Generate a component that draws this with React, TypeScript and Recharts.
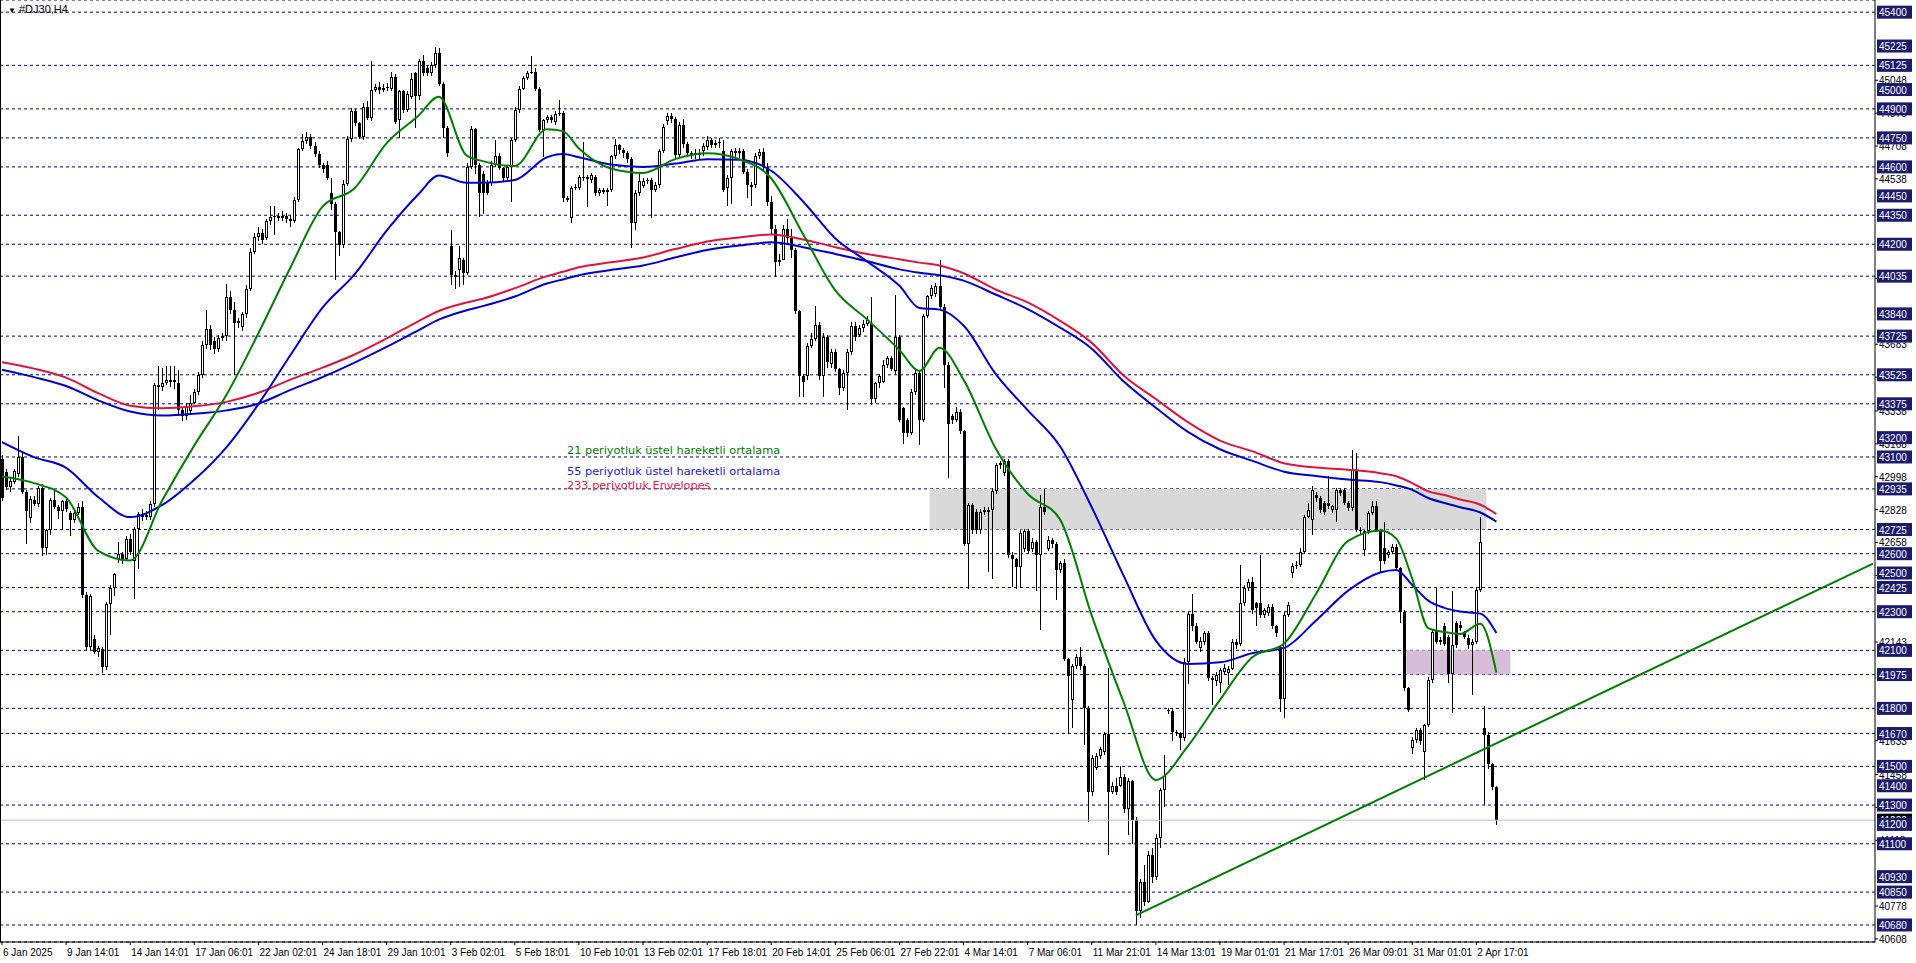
import * as React from "react";
import {
  ComposedChart,
  Bar,
  Line,
  XAxis,
  YAxis,
  CartesianGrid,
  ReferenceLine,
  ReferenceArea,
} from "recharts";

// H4 candles as [open, high, low, close]
const ohlcPart1 = [
  [43090, 43110, 42870, 42890], [43020, 43040, 42930, 42945], [42945, 42990, 42920, 42975], [42970, 43040, 42960, 43030], [43010, 43210, 43000, 43100],
  [43100, 43120, 42910, 42920], [42920, 42930, 42650, 42820], [42785, 42900, 42760, 42885], [42880, 42900, 42850, 42855], [42855, 42950, 42840, 42940],
  [42940, 42960, 42590, 42630], [42630, 42730, 42595, 42720], [42720, 42890, 42700, 42875], [42875, 42930, 42830, 42840], [42840, 42850, 42780, 42820],
  [42820, 42880, 42730, 42870], [42870, 42890, 42820, 42830], [42810, 42820, 42690, 42775], [42775, 42820, 42760, 42810], [42810, 42860, 42800, 42840],
  [42840, 42870, 42370, 42385], [42385, 42400, 42100, 42115], [42115, 42390, 42100, 42380], [42160, 42180, 42080, 42090], [42090, 42125, 42070, 42110],
  [42105, 42115, 41980, 42015], [42015, 42350, 42000, 42340], [42340, 42440, 42180, 42425], [42425, 42500, 42380, 42495], [42575, 42660, 42550, 42600],
  [42600, 42610, 42550, 42575], [42575, 42690, 42560, 42675], [42675, 42700, 42590, 42610], [42560, 42740, 42370, 42730], [42730, 42815, 42520, 42805],
  [42805, 42830, 42770, 42790], [42790, 42820, 42775, 42800], [42790, 42870, 42770, 42855], [42855, 43480, 42840, 43470], [43470, 43570, 43345, 43460],
  [43460, 43560, 43440, 43480], [43485, 43570, 43470, 43500], [43500, 43570, 43460, 43490], [43490, 43570, 43450, 43500], [43480, 43550, 43310, 43345],
  [43345, 43360, 43290, 43312], [43312, 43380, 43290, 43357], [43340, 43420, 43320, 43380], [43380, 43450, 43370, 43435], [43435, 43540, 43420, 43525],
  [43525, 43700, 43510, 43680], [43680, 43860, 43660, 43760], [43760, 43780, 43650, 43680], [43700, 43720, 43630, 43660], [43660, 43730, 43640, 43715],
  [43715, 43740, 43700, 43725], [43725, 43995, 43700, 43925], [43925, 43960, 43840, 43860], [43860, 43900, 43525, 43795], [43795, 43820, 43770, 43805],
  [43770, 43850, 43750, 43840], [43840, 43990, 43820, 43970], [43970, 44180, 43960, 44160], [44160, 44260, 44150, 44240], [44240, 44290, 44220, 44260],
  [44260, 44280, 44200, 44220], [44230, 44330, 44220, 44320], [44320, 44400, 44300, 44340], [44340, 44400, 44250, 44345], [44345, 44360, 44320, 44335],
  [44335, 44370, 44320, 44345], [44345, 44360, 44310, 44330], [44330, 44350, 44290, 44320], [44320, 44445, 44310, 44430], [44430, 44700, 44420, 44690],
  [44690, 44770, 44680, 44735], [44735, 44780, 44720, 44755], [44755, 44770, 44690, 44710], [44710, 44730, 44650, 44665], [44665, 44680, 44590, 44610],
  [44610, 44620, 44570, 44590], [44610, 44630, 44530, 44545], [44465, 44545, 44380, 44410], [44410, 44420, 44015, 44265], [44265, 44270, 44140, 44195],
  [44195, 44530, 44180, 44510], [44510, 44760, 44500, 44745], [44745, 44905, 44730, 44890], [44890, 44900, 44810, 44825], [44825, 44830, 44740, 44755],
  [44755, 44930, 44740, 44910], [44910, 44940, 44840, 44855], [44855, 45150, 44840, 45000], [45000, 45030, 44990, 45015], [45015, 45040, 44980, 45000],
];

const ohlcPart2 = [
  [45000, 45030, 44990, 45010], [45010, 45035, 44995, 45015], [45005, 45090, 44990, 45065], [45065, 45080, 44820, 44830], [44840, 45000, 44750, 44990],
  [44990, 45000, 44880, 44895], [44895, 44990, 44880, 44975], [44960, 45085, 44950, 45055], [45085, 45090, 44800, 44965], [44965, 45160, 44950, 45145],
  [45145, 45180, 45070, 45085], [45110, 45120, 45070, 45085], [45085, 45140, 45070, 45125], [45125, 45220, 45110, 45190], [45190, 45215, 45020, 45030],
  [45030, 45040, 44750, 44800], [44800, 44810, 44650, 44670], [44190, 44275, 43990, 44040], [44040, 44060, 43965, 44030], [44065, 44190, 43980, 44130],
  [44120, 44130, 43990, 44050], [44050, 44620, 44040, 44600], [44600, 44810, 44590, 44795], [44795, 44800, 44560, 44610], [44610, 44620, 44340, 44465],
  [44565, 44580, 44360, 44465], [44515, 44530, 44450, 44465], [44515, 44630, 44500, 44610], [44610, 44740, 44600, 44655], [44655, 44670, 44580, 44595],
  [44595, 44600, 44520, 44540], [44540, 44610, 44530, 44600], [44600, 44750, 44420, 44740], [44740, 44910, 44730, 44895], [44895, 45020, 44880, 45005],
  [45005, 45070, 45000, 45060], [45060, 45095, 45050, 45085], [45085, 45175, 45080, 45092], [45092, 45110, 44990, 45005], [45005, 45015, 44780, 44790],
  [44790, 44850, 44655, 44840], [44840, 44870, 44830, 44860], [44860, 44870, 44830, 44845], [44830, 44890, 44820, 44875], [44875, 44945, 44860, 44880],
  [44880, 44890, 44420, 44440], [44440, 44450, 44420, 44430], [44335, 44500, 44310, 44490], [44490, 44510, 44480, 44498], [44490, 44560, 44480, 44550],
  [44540, 44730, 44530, 44550], [44550, 44560, 44395, 44535], [44530, 44570, 44520, 44560], [44550, 44560, 44450, 44465], [44465, 44490, 44450, 44480],
  [44480, 44490, 44460, 44470], [44470, 44490, 44395, 44480], [44480, 44660, 44470, 44655], [44655, 44745, 44640, 44715], [44715, 44720, 44670, 44685],
  [44685, 44700, 44650, 44670], [44670, 44680, 44620, 44640], [44640, 44650, 44180, 44310], [44310, 44480, 44275, 44465], [44465, 44570, 44450, 44525],
  [44500, 44540, 44490, 44525], [44525, 44545, 44515, 44532], [44532, 44545, 44340, 44480], [44480, 44520, 44470, 44505], [44505, 44690, 44490, 44680],
  [44680, 44820, 44670, 44805], [44835, 44880, 44820, 44865], [44865, 44880, 44830, 44850], [44850, 44860, 44650, 44660], [44660, 44830, 44650, 44815],
  [44815, 44850, 44700, 44720], [44720, 44730, 44650, 44670], [44670, 44680, 44640, 44662], [44662, 44690, 44640, 44670], [44670, 44690, 44640, 44662],
  [44680, 44725, 44660, 44710], [44705, 44760, 44690, 44740], [44740, 44750, 44700, 44715], [44715, 44740, 44700, 44725], [44725, 44750, 44700, 44730],
  [44680, 44740, 44470, 44480], [44490, 44560, 44400, 44540], [44540, 44690, 44405, 44680], [44680, 44700, 44650, 44670], [44670, 44700, 44650, 44680],
  [44680, 44690, 44560, 44575], [44575, 44590, 44440, 44505], [44505, 44520, 44395, 44498], [44505, 44670, 44490, 44655], [44655, 44690, 44640, 44675],
];

const ohlcPart3 = [
  [44675, 44700, 44580, 44600], [44600, 44620, 44400, 44420], [44420, 44450, 44250, 44280], [44280, 44300, 44030, 44110], [44110, 44150, 44090, 44120],
  [44120, 44300, 44120, 44280], [44280, 44330, 44200, 44230], [44230, 44280, 44130, 44170], [44170, 44180, 43840, 43855], [43855, 43860, 43410, 43520],
  [43520, 43530, 43410, 43490], [43520, 43690, 43500, 43675], [43675, 43740, 43660, 43710], [43710, 43880, 43700, 43785], [43785, 43800, 43500, 43520],
  [43520, 43740, 43410, 43720], [43720, 43730, 43560, 43590], [43580, 43660, 43560, 43645], [43645, 43660, 43540, 43555], [43555, 43560, 43420, 43455],
  [43455, 43550, 43440, 43535], [43535, 43660, 43345, 43645], [43645, 43800, 43630, 43775], [43775, 43800, 43700, 43720], [43730, 43780, 43720, 43765],
  [43765, 43810, 43750, 43790], [43790, 43830, 43780, 43810], [43790, 43925, 43365, 43400], [43400, 43490, 43380, 43480], [43480, 43530, 43460, 43520],
  [43490, 43600, 43480, 43575], [43575, 43620, 43560, 43610], [43610, 43620, 43540, 43555], [43545, 43940, 43530, 43720], [43720, 43730, 43280, 43290],
  [43355, 43360, 43170, 43225], [43290, 43300, 43200, 43225], [43225, 43450, 43210, 43435], [43435, 43550, 43420, 43535], [43535, 43540, 43160, 43290],
  [43290, 43840, 43280, 43830], [43830, 43940, 43820, 43930], [43930, 43990, 43920, 43975], [43945, 44000, 43930, 43985], [43985, 44120, 43860, 43875],
  [43875, 43890, 43455, 43575], [43575, 43590, 42990, 43270], [43310, 43320, 43270, 43290], [43290, 43360, 43280, 43335], [43335, 43350, 43220, 43235],
  [43235, 43240, 42640, 42650], [42650, 42860, 42415, 42850], [42850, 42860, 42700, 42725], [42815, 42830, 42700, 42725], [42725, 42830, 42700, 42815],
  [42815, 42840, 42800, 42825], [42825, 42840, 42505, 42815], [42825, 42940, 42470, 42925], [42925, 43070, 42910, 43060], [43060, 43080, 43040, 43070],
  [43015, 43090, 43000, 43080], [43080, 43090, 42580, 42595], [42595, 42610, 42430, 42570], [42570, 42580, 42420, 42530], [42530, 42720, 42420, 42705],
  [42625, 42730, 42610, 42715], [42715, 42730, 42600, 42615], [42625, 42680, 42610, 42660], [42660, 42670, 42405, 42595], [42595, 42905, 42205, 42840],
  [42840, 42935, 42800, 42815], [42625, 42690, 42610, 42670], [42670, 42680, 42630, 42650], [42650, 42660, 42360, 42515], [42515, 42560, 42500, 42550],
  [42550, 42570, 42040, 42055], [42055, 42060, 41665, 41965], [41845, 42030, 41700, 42020], [42020, 42080, 42000, 42065], [42065, 42120, 42000, 42020],
  [42020, 42030, 41610, 41800], [41800, 41810, 41210, 41370], [41370, 41560, 41350, 41545], [41490, 41570, 41480, 41555], [41555, 41600, 41540, 41590],
  [41575, 41680, 41560, 41665], [41665, 42010, 41045, 41370], [41370, 41420, 41360, 41400], [41400, 41440, 41350, 41370], [41400, 41500, 41390, 41445],
  [41445, 41460, 41260, 41280], [41280, 41440, 41145, 41425], [41425, 41430, 41100, 41225], [41225, 41240, 40680, 40750], [40750, 40920, 40720, 40900],
];

const ohlcPart4 = [
  [40900, 40990, 40780, 40800], [40800, 41060, 40790, 41040], [41040, 41080, 40900, 40930], [40930, 41150, 40910, 41130], [41130, 41390, 41080, 41380],
  [41380, 41560, 41290, 41450], [41790, 41800, 41770, 41785], [41785, 41800, 41630, 41680], [41680, 41690, 41660, 41672], [41672, 41680, 41585, 41645],
  [41645, 42060, 41630, 42040], [42040, 42300, 41930, 42290], [42290, 42390, 42200, 42225], [42225, 42240, 42130, 42145], [42110, 42170, 42090, 42150],
  [42145, 42200, 42130, 42190], [42190, 42200, 41940, 41955], [41955, 41970, 41820, 41945], [41940, 41990, 41920, 41975], [41930, 42010, 41880, 42000],
  [41990, 42030, 41980, 42010], [41985, 42020, 41920, 42005], [42005, 42160, 42000, 42145], [42145, 42160, 42110, 42128], [42135, 42540, 42120, 42345],
  [42345, 42440, 42330, 42420], [42420, 42470, 42410, 42455], [42455, 42480, 42290, 42310], [42345, 42350, 42225, 42320], [42345, 42595, 42270, 42285],
  [42285, 42320, 42270, 42310], [42295, 42340, 42280, 42325], [42325, 42340, 42210, 42225], [42225, 42230, 42170, 42190], [42120, 42130, 41785, 41850],
  [41850, 42300, 41750, 42285], [42285, 42350, 42270, 42335], [42500, 42550, 42475, 42535], [42535, 42560, 42520, 42540], [42540, 42630, 42530, 42610],
  [42610, 42800, 42600, 42790], [42790, 42860, 42780, 42825], [42775, 42950, 42695, 42930], [42905, 42920, 42870, 42890], [42890, 42900, 42810, 42825],
  [42860, 42870, 42800, 42815], [42860, 43000, 42830, 42845], [42825, 42850, 42810, 42845], [42825, 42940, 42765, 42930], [42930, 42940, 42900, 42912],
  [42930, 42940, 42850, 42860], [42860, 42870, 42820, 42835], [42835, 43135, 42820, 43035], [43035, 43120, 42710, 42725], [42725, 42740, 42700, 42715],
  [42620, 42720, 42585, 42715], [42715, 42820, 42700, 42810], [42810, 42870, 42800, 42845], [42845, 42870, 42710, 42725], [42725, 42730, 42505, 42560],
  [42630, 42765, 42550, 42560], [42595, 42620, 42580, 42610], [42610, 42650, 42600, 42635], [42635, 42650, 42510, 42525], [42525, 42530, 42240, 42300],
  [42300, 42310, 41890, 41905], [41905, 41910, 41780, 41790], [41595, 41650, 41560, 41635], [41635, 41700, 41620, 41690], [41690, 41700, 41610, 41630],
  [41575, 41720, 41430, 41715], [41715, 41960, 41700, 41945], [41945, 42210, 41930, 42195], [42205, 42420, 42130, 42145], [42145, 42170, 42130, 42155],
  [42225, 42240, 42120, 42135], [42170, 42180, 41930, 41980], [41980, 42405, 41775, 42130], [42240, 42250, 42110, 42130], [42230, 42250, 42200, 42215],
  [42190, 42200, 42160, 42170], [42165, 42180, 42110, 42130], [42130, 42160, 41870, 42145], [42145, 42420, 42130, 42410], [42410, 42790, 42400, 42660],
  [41700, 41810, 41300, 41660], [41660, 41680, 41490, 41510], [41510, 41520, 41380, 41395], [41395, 41400, 41200, 41222],
];

// indicator readings, sampled at these bars
const maBars = [0, 8, 16, 24, 32, 40, 48, 56, 64, 72, 80, 88, 96, 104, 109, 116, 120, 128, 136, 140, 144, 152, 160, 168, 176, 184, 192, 200, 208, 216, 224, 229, 234, 240, 248, 256, 264, 272, 280, 288, 296, 304, 312, 320, 328, 336, 344, 348, 352, 356, 360, 364, 369, 373];
const ema21 = [42999, 42965, 42890, 42615, 42565, 42876, 43160, 43420, 43740, 44080, 44395, 44490, 44723, 44866, 44963, 44658, 44630, 44605, 44795, 44785, 44695, 44592, 44569, 44640, 44670, 44640, 44540, 44250, 43961, 43810, 43653, 43545, 43665, 43500, 43145, 42910, 42780, 42280, 41830, 41430, 41605, 41844, 42063, 42135, 42393, 42666, 42720, 42678, 42470, 42215, 42195, 42185, 42237, 41985];
const ema55 = [43177, 43099, 43044, 42893, 42789, 42852, 42982, 43150, 43373, 43627, 43872, 44044, 44270, 44460, 44555, 44518, 44518, 44532, 44650, 44667, 44650, 44612, 44600, 44617, 44640, 44637, 44580, 44420, 44230, 44110, 43985, 43870, 43862, 43780, 43530, 43342, 43158, 42840, 42484, 42150, 42030, 42038, 42085, 42113, 42255, 42409, 42503, 42516, 42438, 42357, 42320, 42301, 42290, 42190];
const envUpper = [43590, 43557, 43510, 43430, 43365, 43352, 43362, 43385, 43432, 43500, 43562, 43630, 43713, 43803, 43855, 43899, 43918, 43973, 44035, 44058, 44081, 44107, 44132, 44175, 44214, 44235, 44250, 44225, 44185, 44150, 44122, 44105, 44090, 44050, 43966, 43899, 43805, 43690, 43520, 43400, 43280, 43185, 43130, 43068, 43045, 43034, 43016, 43000, 42965, 42922, 42903, 42880, 42853, 42805];
const envLower = [43551, 43513, 43467, 43393, 43335, 43314, 43323, 43341, 43376, 43447, 43513, 43588, 43669, 43756, 43810, 43859, 43880, 43930, 43997, 44018, 44040, 44067, 44090, 44131, 44170, 44193, 44210, 44185, 44150, 44112, 44070, 44053, 44040, 44012, 43940, 43865, 43770, 43660, 43490, 43355, 43230, 43140, 43081, 43024, 43002, 42983, 42970, 42953, 42930, 42888, 42862, 42840, 42813, 42766];

const timeBars = [0, 16, 32, 48, 64, 80, 96, 112, 128, 144, 160, 176, 192, 208, 224, 240, 256, 272, 288, 304, 320, 336, 352, 368];
const timeLabels = ["6 Jan 2025", "9 Jan 14:01", "14 Jan 14:01", "17 Jan 06:01", "22 Jan 02:01", "24 Jan 18:01", "29 Jan 10:01", "3 Feb 02:01", "5 Feb 18:01", "10 Feb 10:01", "13 Feb 02:01", "17 Feb 18:01", "20 Feb 14:01", "25 Feb 06:01", "27 Feb 22:01", "4 Mar 14:01", "7 Mar 06:01", "11 Mar 21:01", "14 Mar 13:01", "19 Mar 01:01", "21 Mar 17:01", "26 Mar 09:01", "31 Mar 01:01", "2 Apr 17:01"];

const levels = [45400, 45225, 45125, 45000, 44900, 44750, 44600, 44450, 44350, 44200, 44035, 43840, 43725, 43525, 43375, 43200, 43100, 42935, 42725, 42600, 42500, 42425, 42300, 42100, 41975, 41800, 41670, 41500, 41400, 41300, 41200, 41100, 40930, 40850, 40680];
const scaleTicks = [45048, 44878, 44708, 44538, 44023, 43683, 43513, 43338, 43168, 42998, 42828, 42658, 42488, 42143, 41633, 41458, 41288, 41118, 40778, 40608];
const lastPrice = 41222;

const grayZone = { from: 232, to: 370, low: 42725, high: 42935 };
const pinkZone = { from: 351, to: 376, low: 41975, high: 42100 };
const trendStart = { bar: 283, price: 40730 };
const trendEnd = { bar: 467, price: 42549 };

const priceDomain = [40592, 45463];
const slotCount = 468;

const candles = [...ohlcPart1, ...ohlcPart2, ...ohlcPart3, ...ohlcPart4];
const rows: any[] = Array.from({ length: slotCount }, (_, i) => ({ i }));
candles.forEach(([o, h, l, c], i) => Object.assign(rows[i], { o, h, l, c }));
maBars.forEach((b, k) =>
  Object.assign(rows[b], {
    ema21: ema21[k],
    ema55: ema55[k],
    envUp: envUpper[k],
    envLo: envLower[k],
  })
);

const boxed = new Set(levels);
const labelFont = "'Liberation Sans', Arial, sans-serif";

const Candle = (props: any) => {
  const { x, y, height, payload } = props;
  if (!payload || payload.h === undefined || !isFinite(y)) return <g />;
  const { o, h, l, c } = payload;
  const top = Math.min(y, y + height);
  const span = Math.abs(height);
  const py = (v: number) => top + (h === l ? 0 : ((h - v) / (h - l)) * span);
  const x0 = Math.round(x);
  const yo = py(o);
  const yc = py(c);
  const bTop = Math.round(Math.min(yo, yc));
  const bBot = Math.round(Math.max(yo, yc));
  const bodyH = Math.max(bBot - bTop, 1);
  return (
    <g shapeRendering="crispEdges">
      <rect x={x0 + 1} y={Math.round(top)} width={1} height={Math.max(Math.round(span), 1)} fill="#000" />
      <rect x={x0} y={bTop} width={3} height={bodyH} fill="#000" />
      {c > o && bodyH > 2 && (
        <rect x={x0 + 1} y={bTop + 1} width={1} height={bodyH - 2} fill="#fff" />
      )}
    </g>
  );
};

const PriceTick = (props: any) => {
  const { x, y, payload } = props;
  const v = payload.value;
  if (boxed.has(v) || v === lastPrice) {
    return (
      <g>
        <rect x={x + 2} y={y - 6.5} width={35} height={13} fill={v === lastPrice ? "#000" : "#1b1b6e"} />
        <text x={x + 4} y={y + 0.5} fill="#fff" fontSize={10} fontFamily={labelFont} dominantBaseline="central">
          {v}
        </text>
      </g>
    );
  }
  return (
    <g>
      <line x1={x} x2={x + 3} y1={y} y2={y} stroke="#000" />
      <text x={x + 4} y={y + 0.5} fill="#000" fontSize={10} fontFamily={labelFont} dominantBaseline="central">
        {v}
      </text>
    </g>
  );
};

const TimeTick = (props: any) => {
  const { x, y, payload } = props;
  const label = timeLabels[timeBars.indexOf(payload.value)];
  return (
    <g>
      <line x1={x} x2={x} y1={y} y2={y + 3} stroke="#000" />
      <text x={x + 1} y={y + 10} fill="#000" fontSize={10} fontFamily={labelFont} dominantBaseline="central">
        {label}
      </text>
    </g>
  );
};

const legendStyle: React.CSSProperties = {
  position: "absolute",
  left: 567,
  fontFamily: "'DejaVu Sans', sans-serif",
  fontSize: 11.3,
  lineHeight: "14px",
  whiteSpace: "nowrap",
};

export default function App() {
  return (
    <div style={{ position: "relative", width: 1916, height: 963, background: "#fff" }}>
      <style>{"body{margin:0}"}</style>
      <ComposedChart
        width={1916}
        height={963}
        data={rows}
        margin={{ top: 0, right: 0, bottom: 0, left: 0 }}
      >
        <XAxis
          dataKey="i"
          type="category"
          ticks={timeBars}
          interval={0}
          tick={<TimeTick />}
          tickLine={false}
          tickSize={0}
          tickMargin={0}
          axisLine={{ stroke: "#000" }}
          height={21}
        />
        <YAxis
          yAxisId="price"
          orientation="right"
          type="number"
          domain={priceDomain}
          allowDataOverflow
          ticks={[...scaleTicks, lastPrice, ...levels]}
          interval={0}
          tick={<PriceTick />}
          tickLine={false}
          tickSize={0}
          tickMargin={0}
          axisLine={{ stroke: "#000" }}
          width={41}
        />
        <YAxis
          yAxisId="grid"
          hide
          type="number"
          domain={priceDomain}
          allowDataOverflow
          ticks={levels}
        />
        <CartesianGrid
          yAxisId="grid"
          vertical={false}
          stroke="#000080"
          strokeDasharray="3 3"
        />
        <ReferenceArea
          yAxisId="price"
          x1={grayZone.from}
          x2={grayZone.to}
          y1={grayZone.low}
          y2={grayZone.high}
          fill="#d9d9d9"
          fillOpacity={1}
          stroke="none"
        />
        <ReferenceArea
          yAxisId="price"
          x1={pinkZone.from}
          x2={pinkZone.to}
          y1={pinkZone.low}
          y2={pinkZone.high}
          fill="#d6bdd8"
          fillOpacity={1}
          stroke="none"
        />
        <ReferenceLine yAxisId="price" y={lastPrice} stroke="#c0c0c0" />
        <Bar
          yAxisId="price"
          dataKey={(d: any) => (d.h === undefined ? null : [d.l, d.h])}
          barSize={3}
          shape={Candle}
          isAnimationActive={false}
        />
        <Line yAxisId="price" dataKey="envUp" type="monotone" stroke="#e0143c" strokeWidth={2} dot={false} connectNulls isAnimationActive={false} />
        <Line yAxisId="price" dataKey="envLo" type="monotone" stroke="#0000d0" strokeWidth={2} dot={false} connectNulls isAnimationActive={false} />
        <Line yAxisId="price" dataKey="ema55" type="monotone" stroke="#0000d0" strokeWidth={2} dot={false} connectNulls isAnimationActive={false} />
        <Line yAxisId="price" dataKey="ema21" type="monotone" stroke="#008000" strokeWidth={2} dot={false} connectNulls isAnimationActive={false} />
        <ReferenceLine
          yAxisId="price"
          segment={[
            { x: trendStart.bar, y: trendStart.price },
            { x: trendEnd.bar, y: trendEnd.price },
          ]}
          stroke="#008000"
          strokeWidth={2}
        />
      </ComposedChart>

      <div style={{ position: "absolute", left: 0, top: 0, width: 1, height: 942, background: "#000" }} />
      <div
        style={{
          position: "absolute",
          left: 8,
          top: 3,
          fontFamily: labelFont,
          fontSize: 11,
          lineHeight: "13px",
          color: "#000",
          whiteSpace: "nowrap",
        }}
      >
        <span style={{ fontSize: 8 }}>▼</span> #DJ30,H4
      </div>
      <div style={{ ...legendStyle, top: 444, color: "#008000" }}>
        21 periyotluk üstel hareketli ortalama
      </div>
      <div style={{ ...legendStyle, top: 465, color: "#2020e8" }}>
        55 periyotluk üstel hareketli ortalama
      </div>
      <div style={{ ...legendStyle, top: 479, color: "#ec1840" }}>
        233 periyotluk Envelopes
      </div>
    </div>
  );
}
